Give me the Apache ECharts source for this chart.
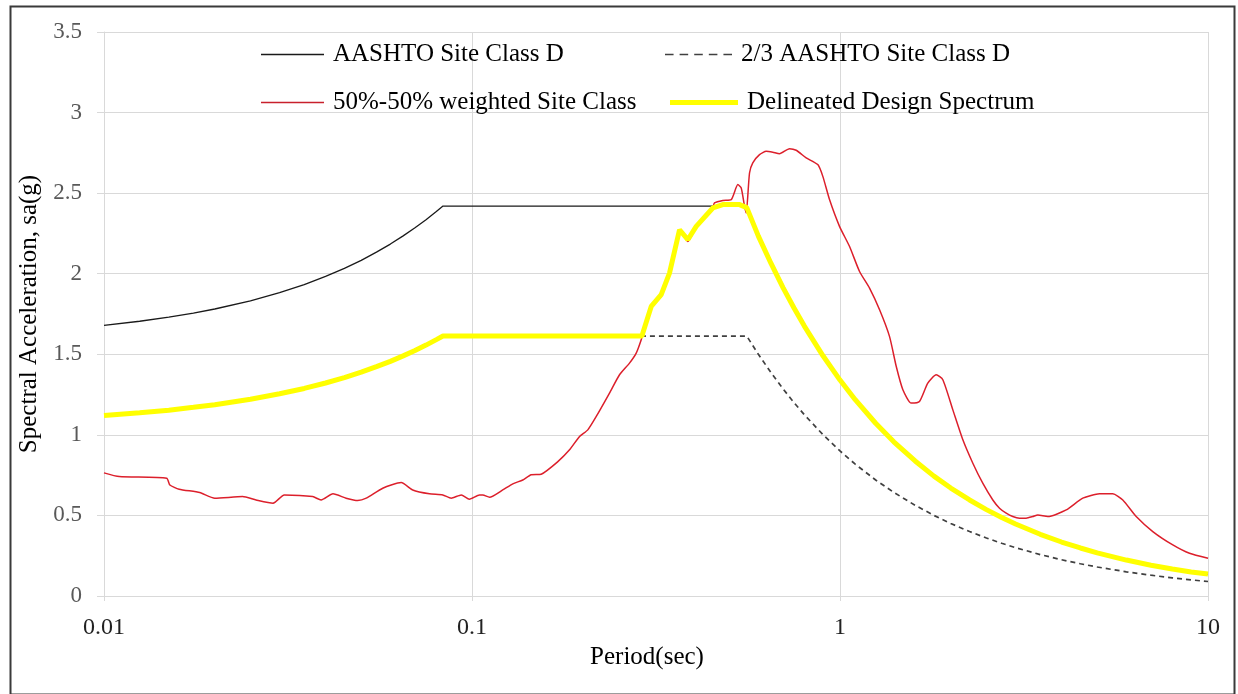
<!DOCTYPE html>
<html>
<head>
<meta charset="utf-8">
<script src="https://cdn.jsdelivr.net/npm/echarts@6/dist/echarts.min.js"></script>
<style>html,body{margin:0;padding:0;background:#fff}#c{width:1238px;height:694px}</style>
</head>
<body>
<div id="c"></div>
<script>
// Series names
const seriesNames = ['AASHTO Site Class D', '2/3 AASHTO Site Class D', '50%-50% weighted Site Class', 'Delineated Design Spectrum'];
// Axis ticks
const yTicks = [0, 0.5, 1, 1.5, 2, 2.5, 3, 3.5];
const xTicks = [0.01, 0.1, 1, 10];

// [Period (sec), Sa (g)]
const aashto = [[0.01,1.68],[0.0125,1.705],[0.015,1.73],[0.0175,1.756],[0.02,1.781],[0.025,1.831],[0.03,1.882],[0.035,1.932],[0.04,1.983],[0.045,2.033],[0.05,2.083],[0.055,2.134],[0.06,2.184],[0.065,2.235],[0.07,2.285],[0.075,2.335],[0.08,2.386],[0.0834,2.42],[0.558,2.42],[0.6,2.25],[0.65,2.077],[0.7,1.929],[0.75,1.8],[0.8,1.688],[0.9,1.5],[1,1.35],[1.1,1.227],[1.25,1.08],[1.4,0.964],[1.6,0.844],[1.8,0.75],[2,0.675],[2.25,0.6],[2.5,0.54],[2.75,0.491],[3,0.45],[3.5,0.386],[4,0.338],[4.5,0.3],[5,0.27],[6,0.225],[7,0.193],[8,0.169],[9,0.15],[10,0.135]];

const aashto23 = [[0.01,1.12],[0.0125,1.137],[0.015,1.153],[0.0175,1.171],[0.02,1.187],[0.025,1.221],[0.03,1.255],[0.035,1.288],[0.04,1.322],[0.045,1.355],[0.05,1.389],[0.055,1.423],[0.06,1.456],[0.065,1.49],[0.07,1.523],[0.075,1.557],[0.08,1.591],[0.0834,1.613],[0.558,1.613],[0.6,1.5],[0.65,1.385],[0.7,1.286],[0.75,1.2],[0.8,1.125],[0.9,1.0],[1,0.9],[1.1,0.818],[1.25,0.72],[1.4,0.643],[1.6,0.563],[1.8,0.5],[2,0.45],[2.25,0.4],[2.5,0.36],[2.75,0.327],[3,0.3],[3.5,0.257],[4,0.225],[4.5,0.2],[5,0.18],[6,0.15],[7,0.129],[8,0.1125],[9,0.1],[10,0.09]];

const weighted = [[0.01,0.764],[0.011,0.741],[0.0148,0.731],[0.0151,0.689],[0.016,0.663],[0.0182,0.642],[0.02,0.607],[0.0238,0.617],[0.0259,0.596],[0.0288,0.576],[0.0309,0.627],[0.0369,0.617],[0.0389,0.596],[0.0419,0.634],[0.0455,0.607],[0.0489,0.592],[0.0516,0.607],[0.0572,0.669],[0.0642,0.704],[0.069,0.658],[0.0766,0.634],[0.0833,0.627],[0.0878,0.607],[0.0935,0.627],[0.0984,0.601],[0.1048,0.627],[0.107,0.627],[0.1116,0.613],[0.1212,0.658],[0.1291,0.696],[0.1374,0.72],[0.1448,0.752],[0.1542,0.756],[0.1711,0.834],[0.1841,0.907],[0.196,0.99],[0.2064,1.031],[0.2176,1.114],[0.2364,1.259],[0.2517,1.373],[0.2679,1.445],[0.2794,1.507],[0.2883,1.59],[0.2912,1.63],[0.3069,1.79],[0.3267,1.86],[0.3441,2.0],[0.3664,2.27],[0.3859,2.2],[0.4067,2.29],[0.4512,2.41],[0.456,2.439],[0.4803,2.455],[0.5063,2.46],[0.5277,2.553],[0.539,2.532],[0.5503,2.418],[0.5561,2.377],[0.5677,2.625],[0.5794,2.688],[0.6044,2.739],[0.6303,2.76],[0.6569,2.754],[0.6848,2.745],[0.7291,2.776],[0.7603,2.766],[0.8093,2.719],[0.8703,2.677],[0.8981,2.604],[0.9365,2.46],[0.9969,2.294],[1.061,2.17],[1.13,2.014],[1.203,1.911],[1.281,1.776],[1.363,1.611],[1.422,1.424],[1.482,1.28],[1.562,1.197],[1.644,1.207],[1.732,1.321],[1.826,1.373],[1.903,1.342],[2.026,1.155],[2.157,0.969],[2.296,0.824],[2.443,0.7],[2.602,0.596],[2.713,0.545],[2.829,0.514],[2.948,0.493],[3.075,0.483],[3.206,0.483],[3.341,0.493],[3.448,0.503],[3.67,0.493],[4.119,0.534],[4.568,0.607],[5.073,0.634],[5.511,0.634],[5.868,0.596],[6.381,0.493],[7.079,0.4],[8.024,0.317],[8.906,0.265],[10,0.234]];

const delineated = [[0.01,1.12],[0.0125,1.137],[0.015,1.153],[0.0175,1.171],[0.02,1.187],[0.025,1.221],[0.03,1.255],[0.035,1.288],[0.04,1.322],[0.045,1.355],[0.05,1.389],[0.055,1.423],[0.06,1.456],[0.065,1.49],[0.07,1.523],[0.075,1.557],[0.08,1.591],[0.0834,1.613],[0.29,1.613],[0.2912,1.632],[0.3069,1.797],[0.3267,1.87],[0.3441,2.004],[0.3664,2.273],[0.3859,2.211],[0.4067,2.294],[0.4512,2.408],[0.4803,2.429],[0.5334,2.429],[0.558,2.41],[0.6,2.233],[0.65,2.062],[0.7,1.914],[0.75,1.787],[0.8,1.675],[0.9,1.489],[1,1.34],[1.1,1.218],[1.25,1.072],[1.4,0.957],[1.6,0.838],[1.8,0.744],[2,0.67],[2.25,0.596],[2.5,0.536],[2.75,0.487],[3,0.447],[3.5,0.383],[4,0.335],[4.5,0.298],[5,0.268],[6,0.223],[7,0.191],[8,0.168],[9,0.149],[10,0.136]];

const FONT = 'Liberation Serif';
const chart = echarts.init(document.getElementById('c'), null, {renderer: 'canvas'});

const DASH_ICON = 'path://M0,0h8.5v1.6h-8.5z M14.5,0h8.5v1.6h-8.5z M29,0h8.5v1.6h-8.5z M43.5,0h8.5v1.6h-8.5z M58,0h8.5v1.6h-8.5z';
function legendAt(name, left, top, w, icon, h) {
  return {
    data: [{name: name, icon: icon}], left: left, top: top, orient: 'horizontal', padding: 0,
    itemWidth: w, itemHeight: h, itemGap: 0, selectedMode: false, symbolKeepAspect: false,
    textStyle: {fontFamily: FONT, fontSize: 25, color: '#000', padding: [0,0,0,4]}
  };
}

chart.setOption({
  animation: false,
  backgroundColor: '#fff',
  graphic: [{
    type: 'rect', left: 8, top: 4, shape: {width: 1224, height: 688},
    style: {fill: 'none', stroke: '#3a3a3a', lineWidth: 2}, silent: true, z: 100
  }],
  grid: {left: 104, right: 30, top: 32, bottom: 98, containLabel: false},
  legend: [
    legendAt(seriesNames[0], 261, 42, 63, 'rect', 1.5),
    legendAt(seriesNames[1], 665, 42, 67, DASH_ICON, 1.6),
    legendAt(seriesNames[2], 261, 90, 63, 'rect', 1.5),
    legendAt(seriesNames[3], 670, 90, 68, 'rect', 5)
  ],
  xAxis: {
    type: 'log', logBase: 10, min: xTicks[0], max: xTicks[xTicks.length-1],
    name: 'Period(sec)', nameLocation: 'middle', nameGap: 47,
    nameTextStyle: {fontFamily: FONT, fontSize: 25, color: '#000', padding: [0,18,0,0]},
    axisLine: {show: true, lineStyle: {color: '#d9d9d9', width: 1}},
    axisTick: {show: true, length: 5, lineStyle: {color: '#d9d9d9'}},
    minorTick: {show: false},
    axisLabel: {fontFamily: FONT, fontSize: 24, color: '#222', margin: 20,
      formatter: v => String(+v.toPrecision(3))},
    splitLine: {show: true, lineStyle: {color: '#d9d9d9', width: 1}}
  },
  yAxis: {
    type: 'value', min: yTicks[0], max: yTicks[yTicks.length-1], interval: 0.5,
    name: 'Spectral Acceleration, sa(g)', nameLocation: 'middle', nameGap: 61,
    nameTextStyle: {fontFamily: FONT, fontSize: 25, color: '#000'},
    axisLine: {show: true, lineStyle: {color: '#d9d9d9', width: 1}},
    axisTick: {show: true, length: 7, lineStyle: {color: '#d9d9d9'}},
    axisLabel: {fontFamily: FONT, fontSize: 23, color: '#595959', margin: 22},
    splitLine: {show: true, lineStyle: {color: '#d9d9d9', width: 1}}
  },
  series: [
    {name: seriesNames[0], type: 'line', data: aashto, showSymbol: false, symbol: 'none',
     lineStyle: {color: '#1a1a1a', width: 1.3}, itemStyle: {color: '#1a1a1a'}, z: 2},
    {name: seriesNames[1], type: 'line', data: aashto23, showSymbol: false, symbol: 'none',
     lineStyle: {color: '#404040', width: 1.7, type: [5, 4]}, itemStyle: {color: '#404040'}, z: 2},
    {name: seriesNames[2], type: 'line', data: weighted, showSymbol: false, symbol: 'none', smooth: 0.2,
     lineStyle: {color: '#dc1f2b', width: 1.5}, itemStyle: {color: '#c8202c'}, z: 3},
    {name: seriesNames[3], type: 'line', data: delineated, showSymbol: false, symbol: 'none',
     lineStyle: {color: '#ffff00', width: 5}, itemStyle: {color: '#ffff00'}, z: 4}
  ]
});
</script>
</body>
</html>
